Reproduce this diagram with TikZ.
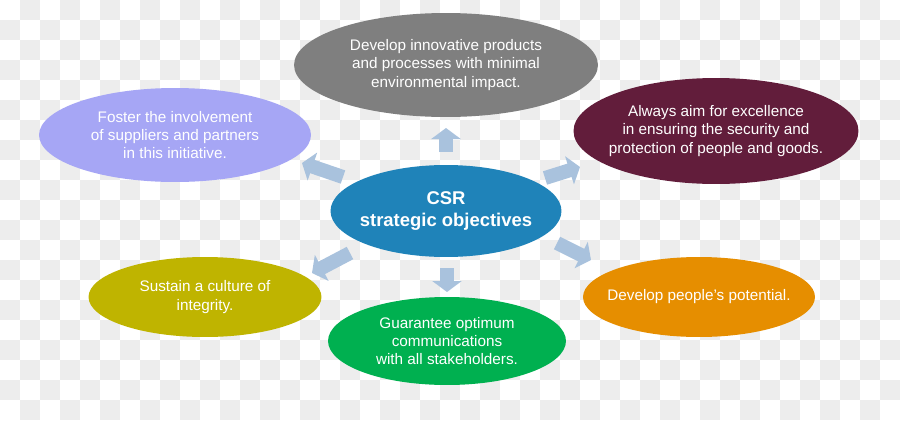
\documentclass[tikz,border=0pt]{standalone}
\usepackage{fontspec}
\setmainfont{Liberation Sans}
\usetikzlibrary{shapes.geometric,arrows.meta}
\definecolor{checker}{HTML}{EDEDED}
\definecolor{cgray}{HTML}{7F7F7F}
\definecolor{cpurple}{HTML}{A6A6F5}
\definecolor{cmaroon}{HTML}{621D3B}
\definecolor{cblue}{HTML}{1F83B9}
\definecolor{colive}{HTML}{BFB400}
\definecolor{cgreen}{HTML}{00B050}
\definecolor{corange}{HTML}{E68E00}
\definecolor{carrow}{HTML}{A9C2DD}
\begin{document}
\begin{tikzpicture}[x=0.02cm,y=-0.02cm,
  oval/.style={ellipse, draw=none, inner sep=0pt},
  txt/.style={text=white, align=center, inner sep=0pt, font=\fontsize{8.7}{10.5}\selectfont},
  bigtxt/.style={text=white, align=center, inner sep=0pt, font=\bfseries\fontsize{10.5}{12.8}\selectfont},
  barrow/.style={draw=carrow, line width=0.28cm, -{Triangle[length=0.22cm,width=0.58cm]}}]
% background (transparency checkerboard)
\fill[white] (0,0) rectangle (900,420);
\foreach \i in {0,...,44}{\foreach \j in {0,...,20}{%
  \pgfmathtruncatemacro\s{mod(\i+\j,2)}%
  \ifnum\s=1 \fill[checker] (\i*20,\j*20) rectangle ++(20,20);\fi}}
% ellipses
\node[oval, fill=cgray, minimum width=6.08cm, minimum height=2.08cm] (top) at (446,65) {};
\node[oval, fill=cpurple, minimum width=5.44cm, minimum height=1.88cm] (ul) at (175,135) {};
\node[oval, fill=cmaroon, minimum width=5.70cm, minimum height=2.12cm] (ur) at (716,131) {};
\node[oval, fill=cblue, minimum width=4.62cm, minimum height=1.84cm] (c) at (446,211) {};
\node[oval, fill=colive, minimum width=4.66cm, minimum height=1.60cm] (ll) at (205,297) {};
\node[oval, fill=cgreen, minimum width=4.76cm, minimum height=1.76cm] (bot) at (447,341) {};
\node[oval, fill=corange, minimum width=4.64cm, minimum height=1.60cm] (lr) at (699,297) {};
% texts
\node[txt] (topt) at (top) {Develop innovative products\\and processes with minimal\\environmental impact.};
\node[txt] (ult) at (ul) {Foster the involvement\\of suppliers and partners\\in this initiative.};
\node[txt] (urt) at (ur) {Always aim for excellence\\in ensuring the security and\\protection of people and goods.};
\node[bigtxt] (ct) at (c) {CSR\\strategic objectives};
\node[txt] (llt) at (ll) {Sustain a culture of\\integrity.};
\node[txt] (bott) at (bot) {Guarantee optimum\\communications\\with all stakeholders.};
\node[txt] (lrt) at (lr) {Develop people’s potential.};
% arrows
\coordinate (a1s) at (446,152); \coordinate (a1e) at (446,128);
\coordinate (a2s) at (447,268); \coordinate (a2e) at (447,292);
\coordinate (a3s) at (343,177); \coordinate (a3e) at (302,163);
\coordinate (a4s) at (545,178); \coordinate (a4e) at (580,167);
\coordinate (a5s) at (557,243); \coordinate (a5e) at (591,260);
\coordinate (a6s) at (350,253); \coordinate (a6e) at (312,273);
\foreach \k in {1,...,6}{\draw[barrow] (a\k s) -- (a\k e);}
\end{tikzpicture}
\end{document}
